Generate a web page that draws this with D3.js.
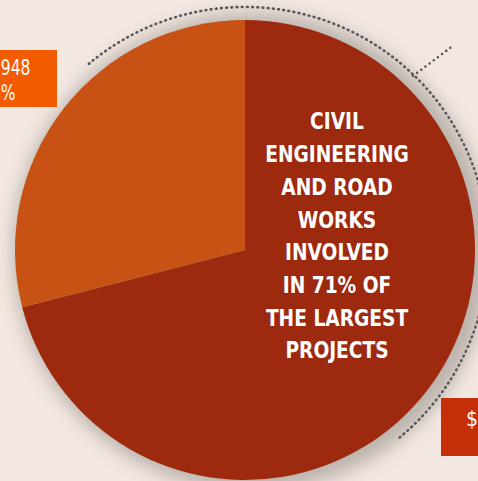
<!DOCTYPE html>
<html>
<head>
<meta charset="utf-8">
<script src="https://cdn.jsdelivr.net/npm/d3@7"></script>
<style>
  body { margin: 0; background: #f2e8e1; overflow: hidden; }
  svg { display: block; }
</style>
</head>
<body>
<div class="chart"></div>
<script>
const width = 478
const height = 481

// share of the largest projects
const categories = ['Civil engineering and road works', 'Other']
const values = [71, 29]
const colors = ['#9d2a0f', '#c85213']
const centerLines = ['CIVIL', 'ENGINEERING', 'AND ROAD', 'WORKS', 'INVOLVED', 'IN 71% OF', 'THE LARGEST', 'PROJECTS']
const leftLabel = ['948', '%']
const rightLabel = ['$']

const cx = 245, cy = 250, r = 230
const font = '"DejaVu Sans Condensed", "DejaVu Sans", sans-serif'

const svg = d3.select('.chart')
    .append('svg')
        .attr('width', width)
        .attr('height', height)

const defs = svg.append('defs')
defs.append('filter')
        .attr('id', 'blur')
        .attr('x', '-30%').attr('y', '-30%').attr('width', '160%').attr('height', '160%')
    .append('feGaussianBlur')
        .attr('stdDeviation', 9)

svg.append('rect')
    .attr('width', width).attr('height', height)
    .attr('fill', '#f2e8e1')

const g = svg.append('g')
    .attr('transform', `translate(${cx},${cy})`)

// soft shadow halo
g.append('circle')
    .attr('cx', 7).attr('cy', 2)
    .attr('r', r + 9)
    .attr('fill', '#a59c97')
    .attr('opacity', 0.7)
    .attr('filter', 'url(#blur)')

// dotted outer arc
const dotArc = d3.arc()
    .innerRadius(243).outerRadius(243)
    .startAngle(-40 * Math.PI / 180)
    .endAngle(141 * Math.PI / 180)
g.append('path')
    .attr('d', dotArc())
    .attr('fill', 'none')
    .attr('stroke', '#56565a')
    .attr('stroke-width', 2.6)
    .attr('stroke-linecap', 'round')
    .attr('stroke-dasharray', '0 5.2')

// leader line
svg.append('line')
    .attr('x1', 413).attr('y1', 76)
    .attr('x2', 454).attr('y2', 45)
    .attr('stroke', '#56565a')
    .attr('stroke-width', 2.6)
    .attr('stroke-linecap', 'round')
    .attr('stroke-dasharray', '0 5.2')

const pie = d3.pie().sort(null).value(d => d)
const arc = d3.arc().innerRadius(0).outerRadius(r)

g.selectAll('path.slice')
    .data(pie(values))
    .join('path')
        .attr('class', 'slice')
        .attr('d', arc)
        .attr('fill', (d, i) => colors[i])

// center text (condensed by horizontal scale)
svg.append('g')
    .attr('transform', 'translate(337,0) scale(0.9,1)')
    .selectAll('text')
    .data(centerLines)
    .join('text')
        .attr('x', 0)
        .attr('y', (d, i) => 129.5 + i * 32.7)
        .attr('text-anchor', 'middle')
        .attr('fill', '#fff')
        .attr('font-family', font)
        .attr('font-weight', 'bold')
        .attr('font-size', 23)
        .text(d => d)

// left label box
svg.append('rect')
    .attr('x', 0).attr('y', 50)
    .attr('width', 57).attr('height', 57)
    .attr('fill', '#f35b00')
svg.append('g')
    .attr('transform', 'scale(0.82,1)')
    .selectAll('text')
    .data(leftLabel)
    .join('text')
        .attr('x', 1)
        .attr('y', (d, i) => 75 + i * 25)
        .attr('fill', '#fff')
        .attr('font-family', font)
        .attr('font-size', 21)
        .text(d => d)

// right label box
svg.append('rect')
    .attr('x', 441).attr('y', 398)
    .attr('width', 40).attr('height', 58)
    .attr('fill', '#c52e06')
svg.append('text')
    .attr('x', 466).attr('y', 426)
    .attr('fill', '#fff')
    .attr('font-family', font)
    .attr('font-size', 21)
    .text(rightLabel[0])
</script>
</body>
</html>
